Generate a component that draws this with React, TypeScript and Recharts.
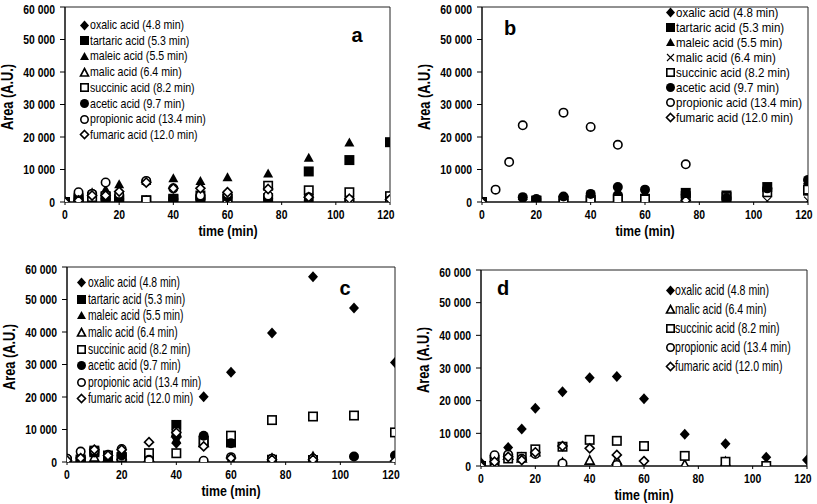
import React from 'react';
import { ScatterChart, Scatter, XAxis, YAxis, ReferenceArea } from 'recharts';

const TIMES = [0, 5, 10, 15, 20, 30, 40, 50, 60, 75, 90, 105, 120];
const X_TICKS = [0, 20, 40, 60, 80, 100, 120];
const Y_TICKS = [0, 10000, 20000, 30000, 40000, 50000, 60000];

const OXALIC = 'oxalic acid (4.8 min)';
const TARTARIC = 'tartaric acid (5.3 min)';
const MALEIC = 'maleic acid (5.5 min)';
const MALIC = 'malic acid (6.4 min)';
const SUCCINIC = 'succinic acid (8.2 min)';
const ACETIC = 'acetic acid (9.7 min)';
const PROPIONIC = 'propionic acid (13.4 min)';
const FUMARIC = 'fumaric acid (12.0 min)';

// panel a
const A_OXALIC = [0, 300, 1000, 1000, 800, 500, 800, 1500, 3000, 2000, 2200, 1500, 800];
const A_TARTARIC = [0, 800, 800, 1500, 800, 500, 800, 800, 1000, 1200, 9400, 12900, 18400];
const A_MALEIC = [0, 1500, 3000, 3900, 5500, 6500, 7300, 6500, 7600, 8800, 13600, 18300, 500];
const A_MALIC = [0, 200, 200, 200, 200, 200, 200, 200, 200, 200, 200, 200, 200];
const A_SUCCINIC = [0, 1200, 1500, 1800, 800, 500, 1000, 2000, 1000, 5000, 3600, 3000, 1800];
const A_ACETIC = [0, 1000, 2500, 1000, 1000, 6300, 1000, 1000, 1500, 1000, 500, 500, 500];
const A_PROPIONIC = [0, 3000, 2500, 6000, 2500, 6500, 4200, 2000, 2500, 2000, 1500, 500, 500];
const A_FUMARIC = [0, 500, 2000, 2000, 3200, 6000, 4200, 4200, 3000, 4000, 1500, 1000, 800];

// panel b
const B_OXALIC = [0, null, null, 800, 500, 800, 1200, 2700, 800, 1500, 600, 3800, 5600];
const B_TARTARIC = [0, null, null, null, 400, 400, 600, 1000, 1000, 2800, 2000, 4600, 3500];
const B_MALEIC = [0, null, null, null, 300, 300, 500, 1200, 500, 800, 800, 3000, 4500];
const B_MALIC = [0, null, null, null, 100, 100, 100, 300, 100, 200, 200, 300, 400];
const B_SUCCINIC = [0, null, null, null, 400, 400, 500, 800, 800, 1800, 1500, 3000, 3800];
const B_ACETIC = [0, null, null, 1500, 900, 1700, 2500, 4600, 3800, 2200, 1200, 4200, 6800];
const B_PROPIONIC = [0, 3800, 12300, 23600, null, 27500, 23100, 17600, null, 11600, null, null, null];
const B_FUMARIC = [0, null, null, null, null, null, null, null, null, 500, null, null, null];

// panel c
const C_OXALIC = [500, 0, 0, 0, 0, 1000, 5800, 20100, 27600, 39700, 57000, 47400, 30600];
const C_TARTARIC = [0, 500, 3500, 1500, 1500, 2500, 11400, 6500, 6000, 700, 600, null, null];
const C_MALEIC = [0, 300, 3000, 1000, 1000, 1500, 7000, 7000, 500, 1500, 2000, null, 0];
const C_MALIC = [0, 300, 1500, 1500, 2000, 1500, 9000, 6000, 300, 500, 1000, null, 0];
const C_SUCCINIC = [0, 800, 3000, 2000, 1500, 2700, 2700, 6500, 8100, 12900, 14000, 14300, 9100];
const C_ACETIC = [1000, 500, 3000, 1500, 2000, 700, 8000, 8100, 5800, 1000, 1000, 1700, 2000];
const C_PROPIONIC = [1000, 3200, 3500, 2200, 4000, 500, 9400, 400, 1500, 1000, 1000, null, null];
const C_FUMARIC = [500, 1200, 3800, 2000, 3800, 6100, 9000, 4800, 1200, 700, 700, null, 300];

// panel d
const D_OXALIC = [1000, 2500, 5700, 11300, 17700, 22700, 27000, 27400, 20600, 9700, 6800, 2700, 1800];
const D_MALIC = [0, 1000, 3300, 2500, 4400, 1000, 1800, 1800, null, 500, 1300, null, null];
const D_SUCCINIC = [0, 1800, 2300, 2800, 5100, 5900, 8000, 7700, 6100, 3100, 1300, 0, null];
const D_PROPIONIC = [0, 3300, 3500, 2200, 3700, 800, null, 300, null, null, null, null, null];
const D_FUMARIC = [0, 1300, 2800, 1800, 4200, 6100, 5400, 3400, 1500, null, null, null, null];

const FONT = "'Liberation Sans', Arial, sans-serif";
const NARROW = 0.8; // squeeze to look like the narrow original face

const toPoints = (values) =>
  TIMES.map((t, i) => ({ x: t, y: values[i] })).filter((p) => p.y !== null && p.y !== undefined);

const fmtY = (v) => (v === 0 ? '0' : `${Math.round(v / 1000)} 000`);

const Marker = ({ kind, cx, cy, s = 9 }) => {
  const h = s / 2;
  const open = { fill: '#fff', stroke: '#000', strokeWidth: 1.6 };
  switch (kind) {
    case 'diamond':
      return <polygon points={`${cx},${cy - h - 0.5} ${cx + h},${cy} ${cx},${cy + h + 0.5} ${cx - h},${cy}`} fill="#000" />;
    case 'diamondOpen':
      return <polygon points={`${cx},${cy - h + 0.5} ${cx + h - 0.5},${cy} ${cx},${cy + h - 0.5} ${cx - h + 0.5},${cy}`} {...open} />;
    case 'square':
      return <rect x={cx - h} y={cy - h} width={s} height={s} fill="#000" />;
    case 'squareOpen':
      return <rect x={cx - h + 0.8} y={cy - h + 0.8} width={s - 1.6} height={s - 1.6} {...open} />;
    case 'triangle':
      return <polygon points={`${cx},${cy - h} ${cx + h},${cy + h - 1} ${cx - h},${cy + h - 1}`} fill="#000" />;
    case 'triangleOpen':
      return <polygon points={`${cx},${cy - h + 0.5} ${cx + h - 0.5},${cy + h - 1} ${cx - h + 0.5},${cy + h - 1}`} {...open} />;
    case 'circle':
      return <circle cx={cx} cy={cy} r={h} fill="#000" />;
    case 'circleOpen':
      return <circle cx={cx} cy={cy} r={h - 0.8} {...open} />;
    case 'cross':
      return (
        <path
          d={`M${cx - h + 1},${cy - h + 1}L${cx + h - 1},${cy + h - 1}M${cx - h + 1},${cy + h - 1}L${cx + h - 1},${cy - h + 1}`}
          stroke="#000"
          strokeWidth={1.1}
          fill="none"
        />
      );
    default:
      return null;
  }
};

const XTick = ({ x, y, payload }) => (
  <text
    x={x}
    y={y}
    dy="0.71em"
    textAnchor="middle"
    fontSize={13}
    fontWeight="bold"
    fill="#000"
    transform={`translate(${x} ${y}) scale(${NARROW} 1) translate(${-x} ${-y})`}
  >
    {payload.value}
  </text>
);

const YTick = ({ x, y, payload }) => (
  <text
    x={x}
    y={y}
    dy="0.355em"
    textAnchor="end"
    fontSize={13}
    fontWeight="bold"
    fill="#000"
    transform={`translate(${x} ${y}) scale(${NARROW} 1) translate(${-x} ${-y})`}
  >
    {fmtY(payload.value)}
  </text>
);

const panels = [
  {
    letter: 'a',
    letterPos: [357, 35],
    plot: { x0: 65, x1: 390, y0: 7, y1: 202 },
    legend: { mx: 84, tx: 90, y: 25, step: 15.7, size: 13.4, squeeze: 0.79 },
    series: [
      { name: OXALIC, kind: 'diamond', values: A_OXALIC },
      { name: TARTARIC, kind: 'square', values: A_TARTARIC },
      { name: MALEIC, kind: 'triangle', values: A_MALEIC },
      { name: MALIC, kind: 'triangleOpen', values: A_MALIC },
      { name: SUCCINIC, kind: 'squareOpen', values: A_SUCCINIC },
      { name: ACETIC, kind: 'circle', values: A_ACETIC },
      { name: PROPIONIC, kind: 'circleOpen', values: A_PROPIONIC },
      { name: FUMARIC, kind: 'diamondOpen', values: A_FUMARIC },
    ],
  },
  {
    letter: 'b',
    letterPos: [510, 28],
    plot: { x0: 482, x1: 808, y0: 7, y1: 202 },
    legend: { mx: 670, tx: 676, y: 12.7, step: 15, size: 12.8, squeeze: 0.9 },
    series: [
      { name: OXALIC, kind: 'diamond', values: B_OXALIC },
      { name: TARTARIC, kind: 'square', values: B_TARTARIC },
      { name: MALEIC, kind: 'triangle', values: B_MALEIC },
      { name: MALIC, kind: 'cross', values: B_MALIC },
      { name: SUCCINIC, kind: 'squareOpen', values: B_SUCCINIC },
      { name: ACETIC, kind: 'circle', values: B_ACETIC },
      { name: PROPIONIC, kind: 'circleOpen', values: B_PROPIONIC },
      { name: FUMARIC, kind: 'diamondOpen', values: B_FUMARIC },
    ],
  },
  {
    letter: 'c',
    letterPos: [345, 288],
    plot: { x0: 67, x1: 395, y0: 267, y1: 462 },
    legend: { mx: 81, tx: 88, y: 282.7, step: 16.6, size: 13.8, squeeze: 0.75 },
    series: [
      { name: OXALIC, kind: 'diamond', values: C_OXALIC },
      { name: TARTARIC, kind: 'square', values: C_TARTARIC },
      { name: MALEIC, kind: 'triangle', values: C_MALEIC },
      { name: MALIC, kind: 'triangleOpen', values: C_MALIC },
      { name: SUCCINIC, kind: 'squareOpen', values: C_SUCCINIC },
      { name: ACETIC, kind: 'circle', values: C_ACETIC },
      { name: PROPIONIC, kind: 'circleOpen', values: C_PROPIONIC },
      { name: FUMARIC, kind: 'diamondOpen', values: C_FUMARIC },
    ],
  },
  {
    letter: 'd',
    letterPos: [503, 288],
    plot: { x0: 481, x1: 807, y0: 270, y1: 466 },
    legend: { mx: 670, tx: 675, y: 290, step: 19, size: 14.1, squeeze: 0.75 },
    series: [
      { name: OXALIC, kind: 'diamond', values: D_OXALIC },
      { name: MALIC, kind: 'triangleOpen', values: D_MALIC },
      { name: SUCCINIC, kind: 'squareOpen', values: D_SUCCINIC },
      { name: PROPIONIC, kind: 'circleOpen', values: D_PROPIONIC },
      { name: FUMARIC, kind: 'diamondOpen', values: D_FUMARIC },
    ],
  },
];

const Panel = ({ cfg }) => {
  const { x0, x1, y0, y1 } = cfg.plot;
  const width = x1 - x0 + 65 + 8;
  const height = y1 - y0 + 7 + 45;
  const { mx, tx, y, step, size, squeeze } = cfg.legend;
  const lh = Math.floor(step) - 1;
  return (
    <>
      <div style={{ position: 'absolute', left: x0 - 65, top: y0 - 7 }}>
        <ScatterChart width={width} height={height} margin={{ top: 7, right: 8, bottom: 15, left: 0 }}>
          <XAxis
            type="number"
            dataKey="x"
            domain={[0, 120]}
            ticks={X_TICKS}
            allowDataOverflow
            height={30}
            tickSize={3}
            tickMargin={5}
            axisLine={{ stroke: '#000' }}
            tickLine={{ stroke: '#000' }}
            tick={<XTick />}
          />
          <YAxis
            type="number"
            dataKey="y"
            domain={[0, 60000]}
            ticks={Y_TICKS}
            allowDataOverflow
            width={65}
            tickSize={5}
            tickMargin={5}
            axisLine={{ stroke: '#000' }}
            tickLine={{ stroke: '#000' }}
            tick={<YTick />}
          />
          <ReferenceArea x1={0} x2={120} y1={0} y2={60000} fill="none" stroke="#222" strokeWidth={1} />
          {cfg.series.map((s) => (
            <Scatter
              key={s.name}
              name={s.name}
              data={toPoints(s.values)}
              isAnimationActive={false}
              shape={(p) => <Marker kind={s.kind} cx={p.cx} cy={p.cy} s={10} />}
            />
          ))}
        </ScatterChart>
      </div>
      <div
        style={{
          position: 'absolute',
          left: x0 - 57 - 60,
          top: (y0 + y1) / 2 - 8 - 8,
          width: 120,
          height: 16,
          lineHeight: '16px',
          textAlign: 'center',
          fontSize: 16,
          fontWeight: 'bold',
          transform: `rotate(-90deg) scaleX(${NARROW})`,
        }}
      >
        Area (A.U.)
      </div>
      <div
        style={{
          position: 'absolute',
          left: (x0 + x1) / 2 - 60,
          top: y1 + 29 - 8,
          width: 120,
          height: 16,
          lineHeight: '16px',
          textAlign: 'center',
          fontSize: 15.5,
          fontWeight: 'bold',
          transform: 'scaleX(0.8)',
        }}
      >
        time (min)
      </div>
      <div
        style={{
          position: 'absolute',
          left: cfg.letterPos[0] - 15,
          top: cfg.letterPos[1] - 12,
          width: 30,
          height: 24,
          lineHeight: '24px',
          textAlign: 'center',
          fontSize: 20,
          fontWeight: 'bold',
        }}
      >
        {cfg.letter}
      </div>
      {cfg.series.map((s, i) => (
        <div key={s.name}>
          <svg
            width={11}
            height={11}
            style={{ position: 'absolute', left: mx - 5.5, top: y + i * step - 5.5 }}
          >
            <Marker kind={s.kind} cx={5.5} cy={5.5} s={9} />
          </svg>
          <div
            style={{
              position: 'absolute',
              left: tx,
              top: y + i * step - lh / 2,
              height: lh,
              lineHeight: `${lh}px`,
              fontSize: size,
              whiteSpace: 'nowrap',
              transform: `scaleX(${squeeze})`,
              transformOrigin: 'left center',
            }}
          >
            {s.name}
          </div>
        </div>
      ))}
    </>
  );
};

const App = () => (
  <div
    style={{
      position: 'absolute',
      left: 0,
      top: 0,
      width: 817,
      height: 504,
      overflow: 'hidden',
      background: '#fff',
      fontFamily: FONT,
      color: '#000',
    }}
  >
    {panels.map((p) => (
      <Panel key={p.letter} cfg={p} />
    ))}
  </div>
);

export default App;
